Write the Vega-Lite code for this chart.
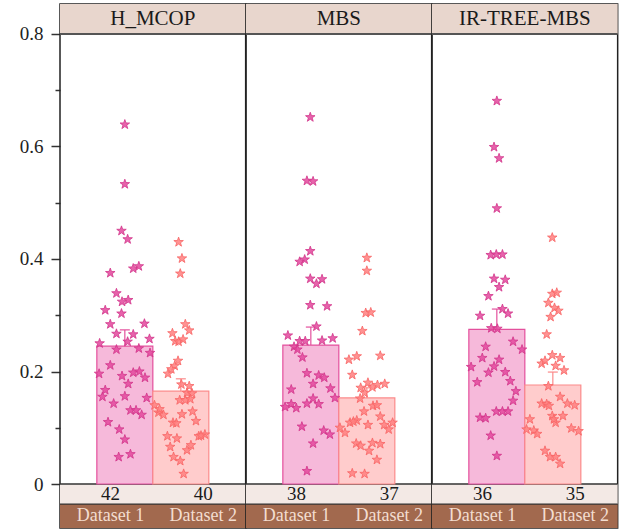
{
"$schema": "https://vega.github.io/schema/vega-lite/v6.json",
"padding": {"left": 19, "top": 3, "right": 6, "bottom": 1},
"bounds": "flush",
"data": {"values": [
{"m":"H_MCOP","d":"Dataset 1","v":0.245,"e":0.274,"n":42},
{"m":"H_MCOP","d":"Dataset 2","v":0.165,"e":0.187,"n":40},
{"m":"MBS","d":"Dataset 1","v":0.247,"e":0.279,"n":38},
{"m":"MBS","d":"Dataset 2","v":0.153,"e":0.171,"n":37},
{"m":"IR-TREE-MBS","d":"Dataset 1","v":0.275,"e":0.311,"n":36},
{"m":"IR-TREE-MBS","d":"Dataset 2","v":0.176,"e":0.199,"n":35},
{"m":"H_MCOP","d":"Dataset 1","v":0.639,"j":0},
{"m":"H_MCOP","d":"Dataset 1","v":0.533,"j":0},
{"m":"H_MCOP","d":"Dataset 1","v":0.450,"j":-0.06},
{"m":"H_MCOP","d":"Dataset 1","v":0.435,"j":0.05},
{"m":"H_MCOP","d":"Dataset 1","v":0.375,"j":-0.26},
{"m":"H_MCOP","d":"Dataset 1","v":0.383,"j":0.15},
{"m":"H_MCOP","d":"Dataset 1","v":0.387,"j":0.25},
{"m":"H_MCOP","d":"Dataset 1","v":0.339,"j":-0.15},
{"m":"H_MCOP","d":"Dataset 1","v":0.324,"j":-0.05},
{"m":"H_MCOP","d":"Dataset 1","v":0.327,"j":0.06},
{"m":"H_MCOP","d":"Dataset 1","v":0.309,"j":-0.35},
{"m":"H_MCOP","d":"Dataset 1","v":0.303,"j":-0.06},
{"m":"H_MCOP","d":"Dataset 1","v":0.284,"j":-0.26},
{"m":"H_MCOP","d":"Dataset 1","v":0.285,"j":0.35},
{"m":"H_MCOP","d":"Dataset 1","v":0.267,"j":-0.15},
{"m":"H_MCOP","d":"Dataset 1","v":0.266,"j":0.15},
{"m":"H_MCOP","d":"Dataset 1","v":0.250,"j":-0.45},
{"m":"H_MCOP","d":"Dataset 1","v":0.253,"j":0.05},
{"m":"H_MCOP","d":"Dataset 1","v":0.258,"j":0.44},
{"m":"H_MCOP","d":"Dataset 1","v":0.239,"j":-0.15},
{"m":"H_MCOP","d":"Dataset 1","v":0.241,"j":0.25},
{"m":"H_MCOP","d":"Dataset 1","v":0.233,"j":0.45},
{"m":"H_MCOP","d":"Dataset 1","v":0.211,"j":-0.26},
{"m":"H_MCOP","d":"Dataset 1","v":0.196,"j":-0.46},
{"m":"H_MCOP","d":"Dataset 1","v":0.192,"j":-0.05},
{"m":"H_MCOP","d":"Dataset 1","v":0.198,"j":0.15},
{"m":"H_MCOP","d":"Dataset 1","v":0.200,"j":0.26},
{"m":"H_MCOP","d":"Dataset 1","v":0.189,"j":0.36},
{"m":"H_MCOP","d":"Dataset 1","v":0.178,"j":0.06},
{"m":"H_MCOP","d":"Dataset 1","v":0.167,"j":-0.35},
{"m":"H_MCOP","d":"Dataset 1","v":0.155,"j":-0.40},
{"m":"H_MCOP","d":"Dataset 1","v":0.156,"j":0},
{"m":"H_MCOP","d":"Dataset 1","v":0.153,"j":0.39},
{"m":"H_MCOP","d":"Dataset 1","v":0.143,"j":-0.20},
{"m":"H_MCOP","d":"Dataset 1","v":0.131,"j":0.10},
{"m":"H_MCOP","d":"Dataset 1","v":0.131,"j":0.20},
{"m":"H_MCOP","d":"Dataset 1","v":0.123,"j":0.30},
{"m":"H_MCOP","d":"Dataset 1","v":0.110,"j":-0.30},
{"m":"H_MCOP","d":"Dataset 1","v":0.097,"j":-0.10},
{"m":"H_MCOP","d":"Dataset 1","v":0.079,"j":0},
{"m":"H_MCOP","d":"Dataset 1","v":0.048,"j":-0.11},
{"m":"H_MCOP","d":"Dataset 1","v":0.053,"j":0.10},
{"m":"H_MCOP","d":"Dataset 2","v":0.430,"j":-0.04},
{"m":"H_MCOP","d":"Dataset 2","v":0.401,"j":0.02},
{"m":"H_MCOP","d":"Dataset 2","v":0.374,"j":-0.01},
{"m":"H_MCOP","d":"Dataset 2","v":0.284,"j":0.08},
{"m":"H_MCOP","d":"Dataset 2","v":0.273,"j":0.15},
{"m":"H_MCOP","d":"Dataset 2","v":0.268,"j":-0.15},
{"m":"H_MCOP","d":"Dataset 2","v":0.254,"j":-0.10},
{"m":"H_MCOP","d":"Dataset 2","v":0.253,"j":-0.04},
{"m":"H_MCOP","d":"Dataset 2","v":0.257,"j":0.04},
{"m":"H_MCOP","d":"Dataset 2","v":0.219,"j":-0.05},
{"m":"H_MCOP","d":"Dataset 2","v":0.210,"j":-0.11},
{"m":"H_MCOP","d":"Dataset 2","v":0.204,"j":-0.17},
{"m":"H_MCOP","d":"Dataset 2","v":0.196,"j":-0.23},
{"m":"H_MCOP","d":"Dataset 2","v":0.177,"j":0.01},
{"m":"H_MCOP","d":"Dataset 2","v":0.174,"j":0.15},
{"m":"H_MCOP","d":"Dataset 2","v":0.162,"j":0.11},
{"m":"H_MCOP","d":"Dataset 2","v":0.161,"j":0.20},
{"m":"H_MCOP","d":"Dataset 2","v":0.149,"j":-0.02},
{"m":"H_MCOP","d":"Dataset 2","v":0.149,"j":0.08},
{"m":"H_MCOP","d":"Dataset 2","v":0.151,"j":0.17},
{"m":"H_MCOP","d":"Dataset 2","v":0.140,"j":-0.47},
{"m":"H_MCOP","d":"Dataset 2","v":0.127,"j":-0.40},
{"m":"H_MCOP","d":"Dataset 2","v":0.123,"j":-0.31},
{"m":"H_MCOP","d":"Dataset 2","v":0.124,"j":0.02},
{"m":"H_MCOP","d":"Dataset 2","v":0.129,"j":0.21},
{"m":"H_MCOP","d":"Dataset 2","v":0.109,"j":-0.14},
{"m":"H_MCOP","d":"Dataset 2","v":0.112,"j":0.27},
{"m":"H_MCOP","d":"Dataset 2","v":0.085,"j":-0.24},
{"m":"H_MCOP","d":"Dataset 2","v":0.081,"j":-0.07},
{"m":"H_MCOP","d":"Dataset 2","v":0.085,"j":0.32},
{"m":"H_MCOP","d":"Dataset 2","v":0.088,"j":0.43},
{"m":"H_MCOP","d":"Dataset 2","v":0.066,"j":-0.19},
{"m":"H_MCOP","d":"Dataset 2","v":0.069,"j":0.18},
{"m":"H_MCOP","d":"Dataset 2","v":0.060,"j":0.11},
{"m":"H_MCOP","d":"Dataset 2","v":0.048,"j":-0.13},
{"m":"H_MCOP","d":"Dataset 2","v":0.041,"j":-0.01},
{"m":"H_MCOP","d":"Dataset 2","v":0.018,"j":0.05},
{"m":"H_MCOP","d":"Dataset 2","v":0.133,"j":-0.38},
{"m":"H_MCOP","d":"Dataset 2","v":0.108,"j":-0.08},
{"m":"H_MCOP","d":"Dataset 2","v":0.086,"j":0.36},
{"m":"MBS","d":"Dataset 1","v":0.652,"j":-0.01},
{"m":"MBS","d":"Dataset 1","v":0.539,"j":-0.07},
{"m":"MBS","d":"Dataset 1","v":0.538,"j":0.04},
{"m":"MBS","d":"Dataset 1","v":0.414,"j":-0.01},
{"m":"MBS","d":"Dataset 1","v":0.399,"j":-0.11},
{"m":"MBS","d":"Dataset 1","v":0.395,"j":-0.20},
{"m":"MBS","d":"Dataset 1","v":0.365,"j":-0.01},
{"m":"MBS","d":"Dataset 1","v":0.356,"j":0.10},
{"m":"MBS","d":"Dataset 1","v":0.364,"j":0.20},
{"m":"MBS","d":"Dataset 1","v":0.318,"j":-0.01},
{"m":"MBS","d":"Dataset 1","v":0.316,"j":0.29},
{"m":"MBS","d":"Dataset 1","v":0.280,"j":0.10},
{"m":"MBS","d":"Dataset 1","v":0.264,"j":-0.41},
{"m":"MBS","d":"Dataset 1","v":0.254,"j":-0.20},
{"m":"MBS","d":"Dataset 1","v":0.254,"j":-0.10},
{"m":"MBS","d":"Dataset 1","v":0.255,"j":0.20},
{"m":"MBS","d":"Dataset 1","v":0.259,"j":0.39},
{"m":"MBS","d":"Dataset 1","v":0.244,"j":-0.30},
{"m":"MBS","d":"Dataset 1","v":0.239,"j":-0.24},
{"m":"MBS","d":"Dataset 1","v":0.225,"j":-0.15},
{"m":"MBS","d":"Dataset 1","v":0.197,"j":-0.07},
{"m":"MBS","d":"Dataset 1","v":0.193,"j":0.14},
{"m":"MBS","d":"Dataset 1","v":0.189,"j":0.24},
{"m":"MBS","d":"Dataset 1","v":0.178,"j":0.04},
{"m":"MBS","d":"Dataset 1","v":0.168,"j":-0.35},
{"m":"MBS","d":"Dataset 1","v":0.170,"j":0.35},
{"m":"MBS","d":"Dataset 1","v":0.153,"j":0.43},
{"m":"MBS","d":"Dataset 1","v":0.152,"j":0.04},
{"m":"MBS","d":"Dataset 1","v":0.143,"j":-0.07},
{"m":"MBS","d":"Dataset 1","v":0.142,"j":0.14},
{"m":"MBS","d":"Dataset 1","v":0.137,"j":-0.46},
{"m":"MBS","d":"Dataset 1","v":0.142,"j":-0.35},
{"m":"MBS","d":"Dataset 1","v":0.135,"j":-0.26},
{"m":"MBS","d":"Dataset 1","v":0.102,"j":-0.16},
{"m":"MBS","d":"Dataset 1","v":0.095,"j":0.23},
{"m":"MBS","d":"Dataset 1","v":0.088,"j":0.34},
{"m":"MBS","d":"Dataset 1","v":0.072,"j":0.04},
{"m":"MBS","d":"Dataset 1","v":0.023,"j":-0.07},
{"m":"MBS","d":"Dataset 2","v":0.402,"j":0},
{"m":"MBS","d":"Dataset 2","v":0.379,"j":0},
{"m":"MBS","d":"Dataset 2","v":0.304,"j":-0.02},
{"m":"MBS","d":"Dataset 2","v":0.305,"j":0.07},
{"m":"MBS","d":"Dataset 2","v":0.272,"j":-0.08},
{"m":"MBS","d":"Dataset 2","v":0.221,"j":-0.32},
{"m":"MBS","d":"Dataset 2","v":0.227,"j":-0.18},
{"m":"MBS","d":"Dataset 2","v":0.228,"j":0.24},
{"m":"MBS","d":"Dataset 2","v":0.194,"j":-0.26},
{"m":"MBS","d":"Dataset 2","v":0.180,"j":0.02},
{"m":"MBS","d":"Dataset 2","v":0.171,"j":-0.11},
{"m":"MBS","d":"Dataset 2","v":0.162,"j":-0.04},
{"m":"MBS","d":"Dataset 2","v":0.172,"j":0.10},
{"m":"MBS","d":"Dataset 2","v":0.176,"j":0.19},
{"m":"MBS","d":"Dataset 2","v":0.178,"j":0.32},
{"m":"MBS","d":"Dataset 2","v":0.152,"j":-0.12},
{"m":"MBS","d":"Dataset 2","v":0.129,"j":-0.05},
{"m":"MBS","d":"Dataset 2","v":0.139,"j":0.11},
{"m":"MBS","d":"Dataset 2","v":0.140,"j":0.18},
{"m":"MBS","d":"Dataset 2","v":0.120,"j":0.24},
{"m":"MBS","d":"Dataset 2","v":0.113,"j":-0.18},
{"m":"MBS","d":"Dataset 2","v":0.109,"j":-0.30},
{"m":"MBS","d":"Dataset 2","v":0.100,"j":-0.48},
{"m":"MBS","d":"Dataset 2","v":0.091,"j":-0.39},
{"m":"MBS","d":"Dataset 2","v":0.105,"j":0.02},
{"m":"MBS","d":"Dataset 2","v":0.105,"j":0.31},
{"m":"MBS","d":"Dataset 2","v":0.097,"j":0.39},
{"m":"MBS","d":"Dataset 2","v":0.109,"j":0.46},
{"m":"MBS","d":"Dataset 2","v":0.072,"j":-0.19},
{"m":"MBS","d":"Dataset 2","v":0.068,"j":-0.11},
{"m":"MBS","d":"Dataset 2","v":0.073,"j":0.10},
{"m":"MBS","d":"Dataset 2","v":0.071,"j":0.24},
{"m":"MBS","d":"Dataset 2","v":0.059,"j":0.04},
{"m":"MBS","d":"Dataset 2","v":0.043,"j":0.18},
{"m":"MBS","d":"Dataset 2","v":0.019,"j":-0.26},
{"m":"MBS","d":"Dataset 2","v":0.018,"j":-0.04},
{"m":"MBS","d":"Dataset 2","v":0.111,"j":-0.24},
{"m":"IR-TREE-MBS","d":"Dataset 1","v":0.681,"j":0},
{"m":"IR-TREE-MBS","d":"Dataset 1","v":0.599,"j":-0.05},
{"m":"IR-TREE-MBS","d":"Dataset 1","v":0.579,"j":0.04},
{"m":"IR-TREE-MBS","d":"Dataset 1","v":0.490,"j":0},
{"m":"IR-TREE-MBS","d":"Dataset 1","v":0.407,"j":-0.11},
{"m":"IR-TREE-MBS","d":"Dataset 1","v":0.408,"j":-0.01},
{"m":"IR-TREE-MBS","d":"Dataset 1","v":0.408,"j":0.10},
{"m":"IR-TREE-MBS","d":"Dataset 1","v":0.365,"j":-0.05},
{"m":"IR-TREE-MBS","d":"Dataset 1","v":0.363,"j":0.15},
{"m":"IR-TREE-MBS","d":"Dataset 1","v":0.350,"j":0.04},
{"m":"IR-TREE-MBS","d":"Dataset 1","v":0.334,"j":-0.15},
{"m":"IR-TREE-MBS","d":"Dataset 1","v":0.299,"j":-0.30},
{"m":"IR-TREE-MBS","d":"Dataset 1","v":0.311,"j":0.10},
{"m":"IR-TREE-MBS","d":"Dataset 1","v":0.303,"j":0.20},
{"m":"IR-TREE-MBS","d":"Dataset 1","v":0.277,"j":-0.10},
{"m":"IR-TREE-MBS","d":"Dataset 1","v":0.276,"j":0.01},
{"m":"IR-TREE-MBS","d":"Dataset 1","v":0.244,"j":-0.20},
{"m":"IR-TREE-MBS","d":"Dataset 1","v":0.253,"j":0.29},
{"m":"IR-TREE-MBS","d":"Dataset 1","v":0.239,"j":0.45},
{"m":"IR-TREE-MBS","d":"Dataset 1","v":0.224,"j":-0.26},
{"m":"IR-TREE-MBS","d":"Dataset 1","v":0.221,"j":0.04},
{"m":"IR-TREE-MBS","d":"Dataset 1","v":0.208,"j":-0.46},
{"m":"IR-TREE-MBS","d":"Dataset 1","v":0.209,"j":-0.05},
{"m":"IR-TREE-MBS","d":"Dataset 1","v":0.198,"j":-0.15},
{"m":"IR-TREE-MBS","d":"Dataset 1","v":0.199,"j":0.15},
{"m":"IR-TREE-MBS","d":"Dataset 1","v":0.181,"j":-0.35},
{"m":"IR-TREE-MBS","d":"Dataset 1","v":0.183,"j":0.24},
{"m":"IR-TREE-MBS","d":"Dataset 1","v":0.165,"j":0.34},
{"m":"IR-TREE-MBS","d":"Dataset 1","v":0.148,"j":0.29},
{"m":"IR-TREE-MBS","d":"Dataset 1","v":0.129,"j":-0.01},
{"m":"IR-TREE-MBS","d":"Dataset 1","v":0.129,"j":0.10},
{"m":"IR-TREE-MBS","d":"Dataset 1","v":0.129,"j":0.20},
{"m":"IR-TREE-MBS","d":"Dataset 1","v":0.118,"j":-0.30},
{"m":"IR-TREE-MBS","d":"Dataset 1","v":0.117,"j":-0.20},
{"m":"IR-TREE-MBS","d":"Dataset 1","v":0.086,"j":-0.11},
{"m":"IR-TREE-MBS","d":"Dataset 1","v":0.050,"j":0},
{"m":"IR-TREE-MBS","d":"Dataset 2","v":0.438,"j":-0.01},
{"m":"IR-TREE-MBS","d":"Dataset 2","v":0.338,"j":-0.01},
{"m":"IR-TREE-MBS","d":"Dataset 2","v":0.340,"j":0.07},
{"m":"IR-TREE-MBS","d":"Dataset 2","v":0.322,"j":-0.08},
{"m":"IR-TREE-MBS","d":"Dataset 2","v":0.313,"j":0.03},
{"m":"IR-TREE-MBS","d":"Dataset 2","v":0.308,"j":0.10},
{"m":"IR-TREE-MBS","d":"Dataset 2","v":0.297,"j":-0.04},
{"m":"IR-TREE-MBS","d":"Dataset 2","v":0.266,"j":-0.11},
{"m":"IR-TREE-MBS","d":"Dataset 2","v":0.229,"j":-0.01},
{"m":"IR-TREE-MBS","d":"Dataset 2","v":0.224,"j":0.13},
{"m":"IR-TREE-MBS","d":"Dataset 2","v":0.214,"j":-0.20},
{"m":"IR-TREE-MBS","d":"Dataset 2","v":0.219,"j":-0.14},
{"m":"IR-TREE-MBS","d":"Dataset 2","v":0.210,"j":0.05},
{"m":"IR-TREE-MBS","d":"Dataset 2","v":0.202,"j":0.20},
{"m":"IR-TREE-MBS","d":"Dataset 2","v":0.174,"j":-0.08},
{"m":"IR-TREE-MBS","d":"Dataset 2","v":0.155,"j":0.13},
{"m":"IR-TREE-MBS","d":"Dataset 2","v":0.143,"j":-0.20},
{"m":"IR-TREE-MBS","d":"Dataset 2","v":0.142,"j":-0.11},
{"m":"IR-TREE-MBS","d":"Dataset 2","v":0.143,"j":0.26},
{"m":"IR-TREE-MBS","d":"Dataset 2","v":0.140,"j":0.39},
{"m":"IR-TREE-MBS","d":"Dataset 2","v":0.121,"j":-0.01},
{"m":"IR-TREE-MBS","d":"Dataset 2","v":0.121,"j":0.18},
{"m":"IR-TREE-MBS","d":"Dataset 2","v":0.109,"j":0.05},
{"m":"IR-TREE-MBS","d":"Dataset 2","v":0.115,"j":-0.41},
{"m":"IR-TREE-MBS","d":"Dataset 2","v":0.097,"j":-0.47},
{"m":"IR-TREE-MBS","d":"Dataset 2","v":0.095,"j":-0.34},
{"m":"IR-TREE-MBS","d":"Dataset 2","v":0.089,"j":-0.28},
{"m":"IR-TREE-MBS","d":"Dataset 2","v":0.099,"j":0.33},
{"m":"IR-TREE-MBS","d":"Dataset 2","v":0.094,"j":0.46},
{"m":"IR-TREE-MBS","d":"Dataset 2","v":0.059,"j":-0.14},
{"m":"IR-TREE-MBS","d":"Dataset 2","v":0.048,"j":-0.05},
{"m":"IR-TREE-MBS","d":"Dataset 2","v":0.048,"j":0.05},
{"m":"IR-TREE-MBS","d":"Dataset 2","v":0.036,"j":0.13},
{"m":"IR-TREE-MBS","d":"Dataset 2","v":0.139,"j":-0.07},
{"m":"IR-TREE-MBS","d":"Dataset 2","v":0.115,"j":0.02}
]},
"facet": {"column": {"field": "m", "type": "nominal", "sort": ["H_MCOP", "MBS", "IR-TREE-MBS"], "title": null, "header": {"labels": false, "title": null}}},
"spacing": {"column": 0},
"spec": {
  "width": 185.67,
  "height": 524,
  "resolve": {"scale": {"x": "independent", "xOffset": "independent"}},
  "layer": [
    {"transform": [{"filter": "isValid(datum.n) && datum.d == 'Dataset 1'"}],
     "mark": {"type": "rect", "fill": "#e8d6cd"},
     "encoding": {"y": {"datum": 0.8533, "scale": {"domain": [-0.0782, 0.8533], "nice": false, "zero": false},
        "axis": {"values": [0, 0.1, 0.2, 0.3, 0.4, 0.5, 0.6, 0.7, 0.8], "domain": false, "grid": false, "title": null, "labelExpr": "round(datum.value*10)%2==1 ? '' : (datum.value==0 ? '0' : format(datum.value, '.1f'))", "labelFont": "Liberation Serif", "labelFontSize": 19, "labelColor": "#222", "tickColor": "#333", "tickWidth": 1.5, "tickSize": {"condition": {"test": "round(datum.value*10)%2==1", "value": 5}, "value": 9}, "labelPadding": 8}},
       "y2": {"datum": 0.8}}},
    {"transform": [{"filter": "isValid(datum.n) && datum.d == 'Dataset 1'"}],
     "mark": {"type": "rect", "fill": "#f3e9e5"},
     "encoding": {"y": {"datum": 0}, "y2": {"datum": -0.0356}}},
    {"transform": [{"filter": "isValid(datum.n) && datum.d == 'Dataset 1'"}],
     "mark": {"type": "rect", "fill": "#a2694e"},
     "encoding": {"y": {"datum": -0.0356}, "y2": {"datum": -0.0782}}},
    {"transform": [{"filter": "isValid(datum.n) && datum.d == 'Dataset 1'"}],
     "mark": {"type": "rule", "color": "#555", "strokeWidth": 2},
     "encoding": {"y": {"datum": 0.8}}},
    {"transform": [{"filter": "isValid(datum.n) && datum.d == 'Dataset 1'"}],
     "mark": {"type": "rule", "color": "#333", "strokeWidth": 1.5},
     "encoding": {"y": {"datum": 0}}},
    {"transform": [{"filter": "isValid(datum.n) && datum.d == 'Dataset 1'"}],
     "mark": {"type": "rule", "color": "#333", "strokeWidth": 1.2},
     "encoding": {"y": {"datum": -0.0356}}},
    {"transform": [{"filter": "isValid(datum.n)"}],
     "mark": {"type": "rect", "strokeWidth": 1.2},
     "encoding": {
       "x": {"field": "d", "type": "nominal", "scale": {"type": "band", "domain": ["Dataset 1", "Dataset 2"], "paddingInner": 0, "paddingOuter": 0.658}, "axis": null},
       "y": {"field": "v", "type": "quantitative"},
       "y2": {"datum": 0},
       "fill": {"condition": {"test": "datum.d == 'Dataset 1'", "value": "#f6b9da"}, "value": "#ffcccc"},
       "stroke": {"condition": {"test": "datum.d == 'Dataset 1'", "value": "#e4509d"}, "value": "#fb8a8a"}}},
    {"transform": [{"filter": "isValid(datum.n)"}],
     "mark": {"type": "rule", "strokeWidth": 1.2},
     "encoding": {
       "x": {"field": "d", "type": "nominal", "scale": {"type": "band", "domain": ["Dataset 1", "Dataset 2"], "paddingInner": 0, "paddingOuter": 0.658}, "axis": null},
       "y": {"field": "v", "type": "quantitative"},
       "y2": {"field": "e"},
       "stroke": {"condition": {"test": "datum.d == 'Dataset 1'", "value": "#e4509d"}, "value": "#fb8a8a"}}},
    {"transform": [{"filter": "isValid(datum.n)"}],
     "mark": {"type": "tick", "size": 10, "thickness": 1.2, "opacity": 1},
     "encoding": {
       "x": {"field": "d", "type": "nominal", "scale": {"type": "band", "domain": ["Dataset 1", "Dataset 2"], "paddingInner": 0, "paddingOuter": 0.658}, "axis": null},
       "y": {"field": "e", "type": "quantitative"},
       "color": {"condition": {"test": "datum.d == 'Dataset 1'", "value": "#e4509d"}, "value": "#fb8a8a"}}},
    {"transform": [{"filter": "isValid(datum.j)"}],
     "mark": {"type": "point", "shape": "M0,-1L0.235,-0.324L0.951,-0.309L0.38,0.124L0.588,0.809L0,0.4L-0.588,0.809L-0.38,0.124L-0.951,-0.309L-0.235,-0.324Z", "size": 100, "filled": true, "opacity": 1, "fillOpacity": 0.85, "strokeWidth": 0.8},
     "encoding": {
       "x": {"field": "d", "type": "nominal", "scale": {"type": "band", "domain": ["Dataset 1", "Dataset 2"], "paddingInner": 0, "paddingOuter": 0.658}, "axis": null},
       "xOffset": {"field": "j", "type": "quantitative", "scale": {"domain": [-0.5, 0.5]}},
       "y": {"field": "v", "type": "quantitative"},
       "fill": {"condition": {"test": "datum.d == 'Dataset 1'", "value": "#e3479c"}, "value": "#ff7f7f"},
       "stroke": {"condition": {"test": "datum.d == 'Dataset 1'", "value": "#d2358a"}, "value": "#f76565"}}},
    {"transform": [{"filter": "isValid(datum.n)"}],
     "mark": {"type": "text", "font": "Liberation Serif", "fontSize": 19, "color": "#1a1a1a", "baseline": "middle", "dx": 4},
     "encoding": {
       "x": {"field": "d", "type": "nominal", "scale": {"type": "band", "domain": ["Dataset 1", "Dataset 2"], "paddingInner": 0, "paddingOuter": 0}, "axis": null},
       "y": {"datum": -0.0178},
       "text": {"field": "n"}}},
    {"transform": [{"filter": "isValid(datum.n)"}],
     "mark": {"type": "text", "font": "Liberation Serif", "fontSize": 18, "color": "#f3ddd0", "baseline": "middle", "dx": 4},
     "encoding": {
       "x": {"field": "d", "type": "nominal", "scale": {"type": "band", "domain": ["Dataset 1", "Dataset 2"], "paddingInner": 0, "paddingOuter": 0}, "axis": null},
       "y": {"datum": -0.0569},
       "text": {"field": "d"}}},
    {"transform": [{"filter": "isValid(datum.n) && datum.d == 'Dataset 1'"}],
     "mark": {"type": "text", "font": "Liberation Serif", "fontSize": 21, "color": "#1a1a1a", "baseline": "middle"},
     "encoding": {
       "y": {"datum": 0.8267},
       "text": {"field": "m"}}}
  ]
},
"config": {"view": {"stroke": "#222", "strokeWidth": 1.5}, "font": "Liberation Serif"}
}
